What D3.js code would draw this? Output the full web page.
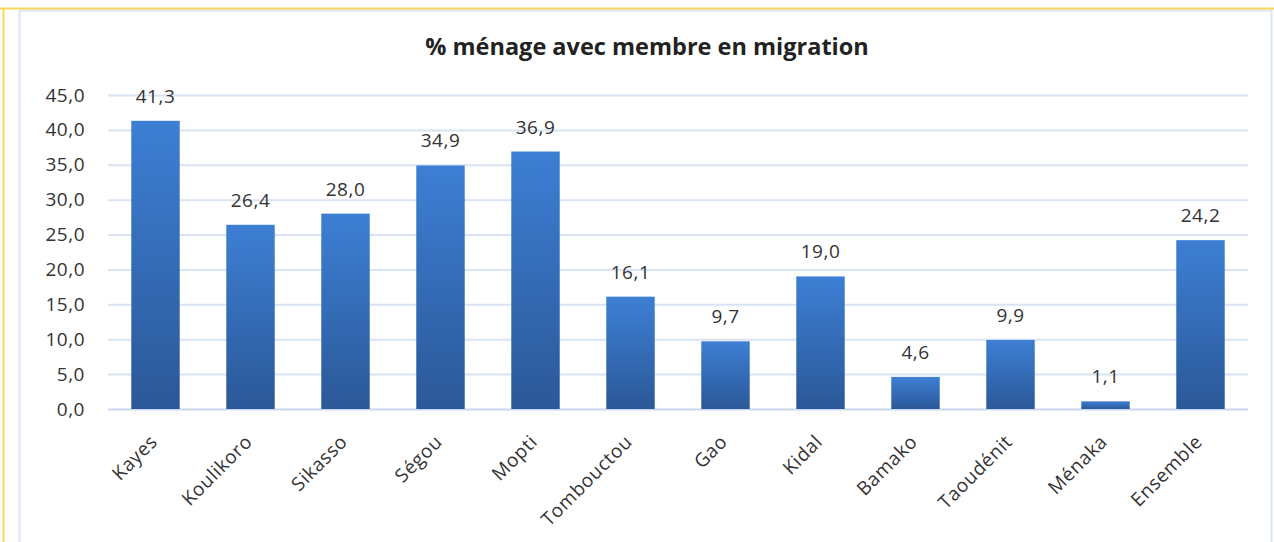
<!DOCTYPE html>
<html>
<head>
<meta charset="utf-8">
<script src="https://cdn.jsdelivr.net/npm/d3@7"></script>
<style>
  body { margin: 0; background: #fff; }
  svg { display: block; }
</style>
</head>
<body>
<div id="chart"></div>
<script>
"use strict";

// data
var regions = ["Kayes", "Koulikoro", "Sikasso", "Ségou", "Mopti", "Tombouctou",
  "Gao", "Kidal", "Bamako", "Taoudénit", "Ménaka", "Ensemble"];
var pctMigration = [41.3, 26.4, 28.0, 34.9, 36.9, 16.1, 9.7, 19.0, 4.6, 9.9, 1.1, 24.2];
var yTicks = [0, 5, 10, 15, 20, 25, 30, 35, 40, 45];
var chartTitle = "% ménage avec membre en migration";

var width = 1274, height = 542;
var margin = {left: 108, right: 26, top: 95, bottom: 133};
var fontFam = "'Open Sans', 'Liberation Sans', sans-serif";
var labelSize = 19;

var fmt = function(v){ return v.toFixed(1).replace(".", ","); };

var svg = d3.select("#chart").append("svg")
  .attr("width", width)
  .attr("height", height);

// bar gradient
var grad = svg.append("defs").append("linearGradient")
  .attr("id", "barGrad")
  .attr("x1", 0).attr("y1", 0).attr("x2", 0).attr("y2", 1);
grad.append("stop").attr("offset", "0%").attr("stop-color", "#3d7fd4");
grad.append("stop").attr("offset", "100%").attr("stop-color", "#2b5898");

// frames
svg.append("rect")
  .attr("x", 19.5).attr("y", 10.5)
  .attr("width", 1252).attr("height", 540)
  .attr("fill", "none")
  .attr("stroke", "#dce6f5")
  .attr("stroke-width", 2);
svg.append("line")
  .attr("x1", 0).attr("x2", width)
  .attr("y1", 8.5).attr("y2", 8.5)
  .attr("stroke", "#fdd55a").attr("stroke-width", 2);
svg.append("line")
  .attr("x1", 3.5).attr("x2", 3.5)
  .attr("y1", 8).attr("y2", height)
  .attr("stroke", "#fdd55a").attr("stroke-width", 2);

var x = d3.scaleBand()
  .domain(regions)
  .range([margin.left, width - margin.right])
  .paddingInner(0.49)
  .paddingOuter(0.245);

var y = d3.scaleLinear()
  .domain([0, 45])
  .range([height - margin.bottom, margin.top]);

// gridlines
svg.append("g").selectAll("line")
  .data(yTicks)
  .enter().append("line")
  .attr("x1", margin.left)
  .attr("x2", width - margin.right)
  .attr("y1", function(d){ return y(d) + 0.5; })
  .attr("y2", function(d){ return y(d) + 0.5; })
  .attr("stroke", function(d){ return d === 0 ? "#c9d8ee" : "#d9e3f4"; })
  .attr("stroke-width", 2);

// y axis labels
var yAxis = d3.axisLeft(y)
  .tickValues(yTicks)
  .tickFormat(fmt)
  .tickSize(0)
  .tickPadding(0);
svg.append("g")
  .attr("transform", "translate(85,0)")
  .call(yAxis)
  .call(function(g){ g.select(".domain").remove(); })
  .selectAll("text")
  .attr("font-family", fontFam)
  .attr("font-size", labelSize)
  .attr("letter-spacing", 0.5)
  .attr("fill", "#333");

// bars
svg.append("g").selectAll("rect")
  .data(pctMigration)
  .enter().append("rect")
  .attr("x", function(d, i){ return x(regions[i]); })
  .attr("y", function(d){ return y(d); })
  .attr("width", x.bandwidth())
  .attr("height", function(d){ return y(0) - y(d); })
  .attr("fill", "url(#barGrad)");

// value labels
svg.append("g").selectAll("text")
  .data(pctMigration)
  .enter().append("text")
  .attr("x", function(d, i){ return x(regions[i]) + x.bandwidth() / 2; })
  .attr("y", function(d){ return y(d) - 18; })
  .attr("text-anchor", "middle")
  .attr("font-family", fontFam)
  .attr("font-size", labelSize)
  .attr("letter-spacing", 0.5)
  .attr("fill", "#333")
  .text(fmt);

// x axis labels
svg.append("g").selectAll("text")
  .data(regions)
  .enter().append("text")
  .attr("transform", function(d){
    var cx = x(d) + x.bandwidth() / 2 + 3;
    return "translate(" + cx + ",443) rotate(-45)";
  })
  .attr("text-anchor", "end")
  .attr("font-family", fontFam)
  .attr("font-size", labelSize)
  .attr("letter-spacing", 0.6)
  .attr("fill", "#333")
  .text(function(d){ return d; });

// title
svg.append("text")
  .attr("x", 647)
  .attr("y", 55)
  .attr("text-anchor", "middle")
  .attr("font-family", fontFam)
  .attr("font-weight", "bold")
  .attr("font-size", 23.5)
  .attr("fill", "#222")
  .text(chartTitle);
</script>
</body>
</html>
